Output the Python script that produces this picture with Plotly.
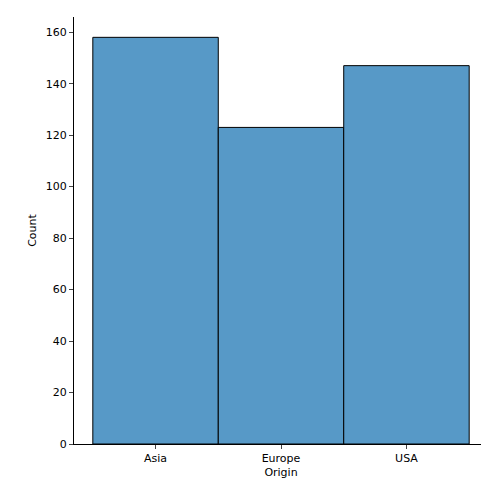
import plotly.graph_objects as go

origins = ["Asia", "Europe", "USA"]
counts = [158, 123, 147]
y_ticks = [0, 20, 40, 60, 80, 100, 120, 140, 160]

fig = go.Figure(
    go.Bar(
        x=list(range(len(origins))),
        y=counts,
        width=1,
        marker=dict(color="#5799c7", line=dict(color="black", width=1)),
    )
)
fig.update_xaxes(
    range=[-0.65, 2.65], tickvals=list(range(len(origins))), ticktext=origins,
    showline=True, linecolor="black", linewidth=1, ticks="outside", ticklen=4,
    showgrid=False, zeroline=False, tickfont=dict(size=11),
    title=dict(text="Origin", standoff=4, font=dict(size=11)),
)
fig.update_yaxes(
    range=[0, 165.9], tickvals=y_ticks, showline=True, linecolor="black",
    linewidth=1, ticks="outside", ticklen=4, showgrid=False, zeroline=False,
    tickfont=dict(size=11),
    title=dict(text="Count", standoff=6, font=dict(size=11)),
)
fig.update_layout(
    width=489, height=489, plot_bgcolor="white", paper_bgcolor="white",
    margin=dict(l=66, r=9, t=9, b=53),
    font=dict(family="DejaVu Sans", size=11, color="black"),
)
fig.write_html("out.html")
